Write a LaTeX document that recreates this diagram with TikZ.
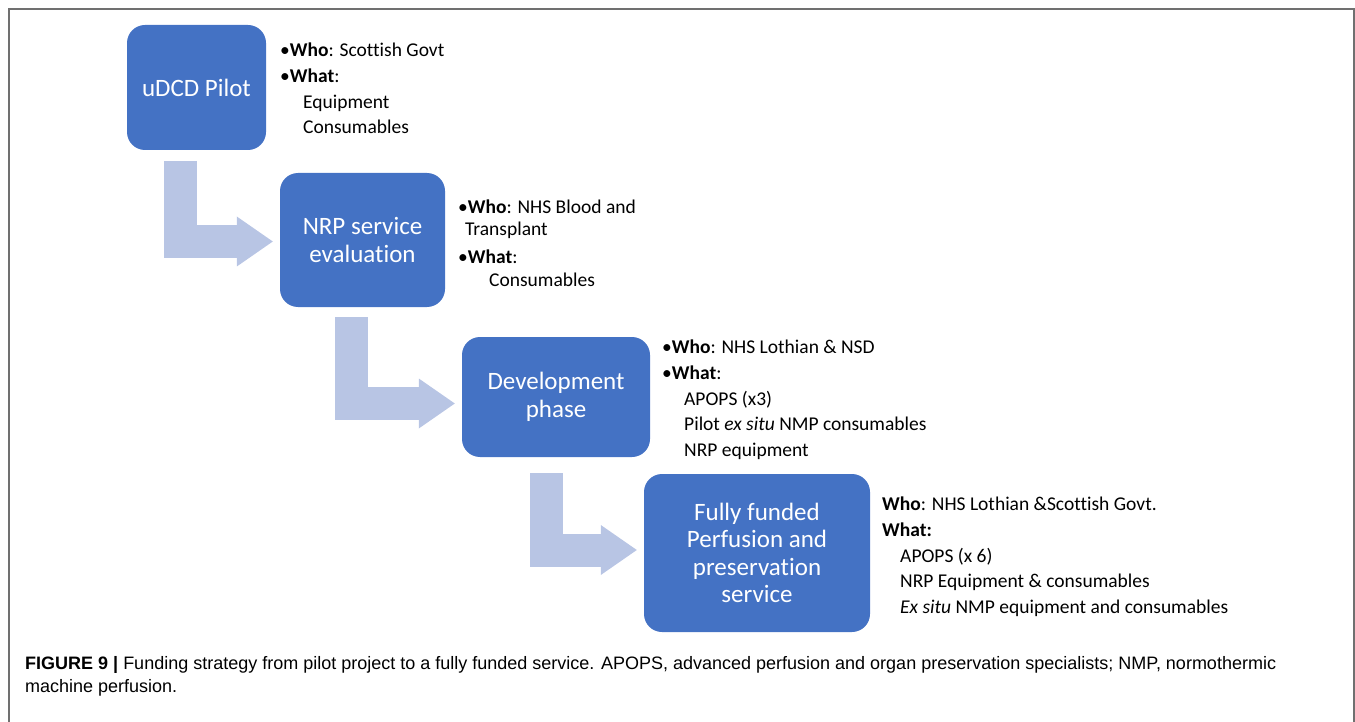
\documentclass[tikz,border=0pt]{standalone}
\usepackage{fontspec}
\setmainfont[Ligatures=NoCommon]{Carlito}
\newfontfamily\capfont{Liberation Sans}
\usetikzlibrary{arrows.meta}
\definecolor{boxblue}{HTML}{4472C4}
\definecolor{arrowblue}{HTML}{B8C5E4}
\definecolor{framegray}{HTML}{707070}

\begin{document}
\begin{tikzpicture}[x=1pt, y=-1pt,
    stage/.style={fill=boxblue, rounded corners=18pt, text=white, align=center,
        font=\fontsize{25}{27.5}\selectfont, inner sep=0pt},
    info/.style={anchor=north west, align=left, inner sep=0pt,
        font=\fontsize{19.5}{25.7}\selectfont},
    bent/.style={arrowblue, line width=33pt, line join=miter,
        -{Triangle[length=36pt, width=50pt, line width=0pt]}}]
\useasboundingbox (0,0) rectangle (1355,722);
% Frame
\draw[framegray, line width=2pt] (9,722) -- (9,9) -- (1354,9) -- (1354,722);
% Stages
\foreach \n/\cx/\cy/\w/\h/\txt in {1/196.5/87.5/139/125/{uDCD Pilot},
        2/362.5/240/165/134/{NRP service\\evaluation},
        3/556/397/188/120/{Development\\phase},
        4/757/553/226/158/{Fully funded\\Perfusion and\\preservation\\service}}
    \node[stage, minimum width=\w pt, minimum height=\h pt] (B\n) at (\cx,\cy) {\txt};
% Bent arrows
\coordinate (S1) at (180,161);
\coordinate (S2) at (351.5,317);
\coordinate (S3) at (546.5,473);
\foreach \i/\j/\dy in {1/2/-1.5, 2/3/-6.5, 3/4/3}
    \draw[bent] (S\i) |- ([xshift=-7pt, yshift=\dy pt]B\j.west);
% Funding notes
\node[info] (W1) at (280,43) {•\textbf{Who}: Scottish Govt\\
    •\textbf{What}:\\
    \hspace*{23pt}Equipment\\
    \hspace*{23pt}Consumables};
\node[info] (W2) at (458,200) {•\textbf{Who}: NHS Blood and\\[-3.7pt]
    \hspace*{7pt}Transplant\\[2.3pt]
    •\textbf{What}:\\[-2.7pt]
    \hspace*{31pt}Consumables};
\node[info] (W3) at (662,340) {•\textbf{Who}: NHS Lothian \& NSD\\
    •\textbf{What}:\\
    \hspace*{22pt}APOPS (x3)\\
    \hspace*{22pt}Pilot \textit{ex situ} NMP consumables\\
    \hspace*{22pt}NRP equipment};
\node[info] (W4) at (882,497) {\textbf{Who}: NHS Lothian \&Scottish Govt.\\
    \textbf{What:}\\
    \hspace*{18pt}APOPS (x 6)\\
    \hspace*{18pt}NRP Equipment \& consumables\\
    \hspace*{18pt}\textit{Ex situ} NMP equipment and consumables};
% Caption
\node[anchor=north west, align=left, inner sep=0pt, font=\capfont\fontsize{18}{23}\selectfont]
    (Cap) at (25,656) {\textbf{FIGURE 9 |} Funding strategy from pilot project to a fully funded service. APOPS, advanced perfusion and organ preservation specialists; NMP, normothermic\\
    machine perfusion.};
\end{tikzpicture}
\end{document}
